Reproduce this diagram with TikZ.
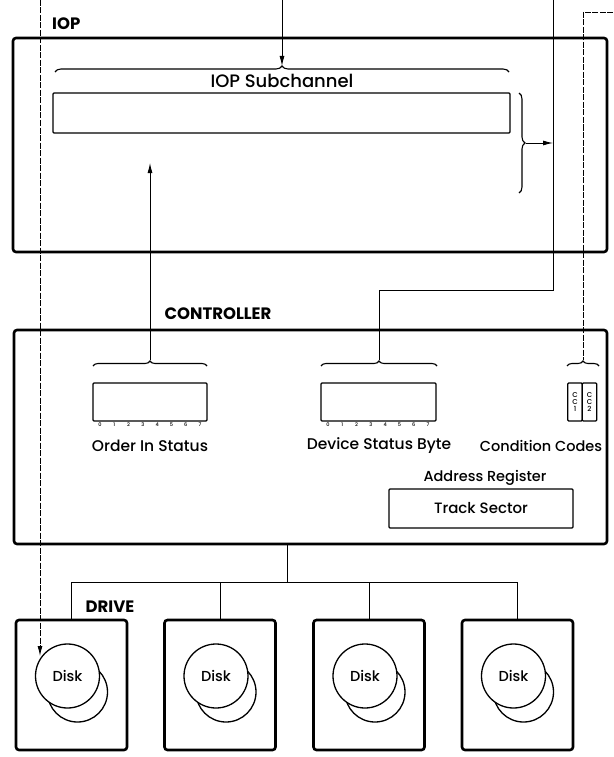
\documentclass[tikz,border=0pt]{standalone}
\usepackage{fontspec}
\setmainfont{Poppins}[UprightFont=* Medium, BoldFont=* Bold]
\newfontfamily\lblfont{Poppins}
\usetikzlibrary{arrows.meta,decorations.pathreplacing}
\begin{document}
\begin{tikzpicture}[x=1pt,y=-1pt,
  thickbox/.style={draw, line width=2.6pt, rounded corners=3pt, inner sep=0pt},
  regbox/.style={draw, line width=1.3pt, inner sep=0pt, rounded corners=1pt},
  conn/.style={line width=0.9pt},
  dconn/.style={line width=0.9pt, dash pattern=on 6pt off 1.5pt},
  brc/.style={decorate, decoration={brace, amplitude=6pt}, line width=1.1pt},
  sbrc/.style={decorate, decoration={brace, amplitude=5pt}, line width=1.1pt},
  arr/.style={-{Latex[length=10pt,width=5pt]}},
  lbl/.style={font=\lblfont\bfseries\fontsize{16.5}{16.5}\selectfont, inner sep=0pt},
  txt/.style={font=\fontsize{15}{16}\selectfont, inner sep=0pt},
  bits/.style={font=\fontsize{5}{5}\selectfont, inner sep=0pt},
  cctxt/.style={font=\fontsize{7}{7}\selectfont, inner sep=0pt, align=center},
  disk/.style={draw, circle, fill=white, minimum size=64pt, line width=1.3pt, inner sep=0pt, font=\fontsize{14.5}{15}\selectfont},
]
\useasboundingbox (0,0) rectangle (613,757);

% ---------------- IOP ----------------
\node[thickbox, minimum width=594pt, minimum height=214pt] (iop) at (310,145) {};
\node[lbl, anchor=west] (ioplbl) at (52,24) {IOP};
\node[regbox, minimum width=457pt, minimum height=40pt] (sub) at (281.5,113) {};
\node[txt, font=\fontsize{18}{19}\selectfont] (subtxt) at (282,81) {IOP Subchannel};
\draw[brc] (55,72) -- (509,72);
\coordinate (subtip) at (282,66);
\draw[brc] (519,93) -- (519,193);
\coordinate (rbtip) at (526,143);

% ---------------- CONTROLLER ----------------
\node[thickbox, minimum width=593pt, minimum height=214pt] (ctl) at (310.5,437) {};
\node[lbl] (ctllbl) at (218,314) {CONTROLLER};

\node[regbox, minimum width=114pt, minimum height=38pt] (ois) at (150,402) {};
\draw[sbrc] (93,366) -- (207,366);
\coordinate (oistip) at (150,360);
\foreach \i in {0,...,7} {\node[bits] (oisb\i) at ({100+\i*14.3},425) {\i};}
\node[txt, font=\fontsize{15.5}{16}\selectfont] (oislbl) at (150,446) {Order In Status};

\node[regbox, minimum width=115pt, minimum height=38pt] (dsb) at (378.5,402) {};
\draw[sbrc] (321,366) -- (437,366);
\coordinate (dsbtip) at (379,360);
\foreach \i in {0,...,7} {\node[bits] (dsbb\i) at ({328+\i*14.3},425) {\i};}
\node[txt, font=\fontsize{15.5}{16}\selectfont] (dsblbl) at (379,446) {Device Status Byte};

\node[regbox, minimum width=14.5pt, minimum height=38pt] (cc1) at (575,402) {};
\node[regbox, minimum width=14.5pt, minimum height=38pt] (cc2) at (589.5,402) {};
\node[cctxt] (cc1t) at (cc1) {C\\C\\1};
\node[cctxt] (cc2t) at (cc2) {C\\C\\2};
\draw[sbrc] (567,366) -- (599,366);
\coordinate (cctip) at (583,360);
\node[txt, font=\fontsize{14.5}{15}\selectfont] (cclbl) at (541,446) {Condition Codes};

\node[txt, font=\fontsize{14.5}{15}\selectfont] (arlbl) at (485,478) {Address Register};
\node[regbox, txt, minimum width=184pt, minimum height=39pt] (ts) at (481,508.5) {Track Sector};

% ---------------- DRIVES ----------------
\foreach \n/\cx in {d1/71.5, d2/220, d3/369, d4/517.5} {
  \node[thickbox, minimum width=111pt, minimum height=130pt] (\n) at (\cx,685) {};
  \draw[line width=1.3pt] ({\cx+6},692) circle[radius=30pt];
  \node[disk] (\n disk) at ({\cx-4},676) {Disk};
}
\node[lbl] (drvlbl) at (110,607) {DRIVE};

% ---------------- CONNECTORS ----------------
\coordinate (topA) at (282,0);
\draw[conn, arr] (topA) -- (subtip);

\coordinate (dtop) at (40,0);
\coordinate (dend) at (40,656);
\draw[dconn, arr] (dtop) -- (dend);

\coordinate (lineB) at (553,0);
\coordinate (bend) at (553,290);
\draw[conn, arr] (rbtip) -- (rbtip -| lineB);
\draw[conn] (lineB) -- (bend) -| (dsbtip);

\coordinate (ccA) at (613,12);
\coordinate (ccB) at (583,12);
\draw[dconn] (ccA) -- (ccB) -- (cctip);

\coordinate (oisarr) at (150,163);
\draw[conn, arr] (oistip) -- (oisarr);

\coordinate (bus) at (287,582);
\draw[conn] (bus |- ctl.south) -- (bus);
\draw[conn] (d1.north) -- (d1.north |- bus) -- (d4.north |- bus) -- (d4.north);
\draw[conn] (d2.north) -- (d2.north |- bus);
\draw[conn] (d3.north) -- (d3.north |- bus);
\end{tikzpicture}
\end{document}
